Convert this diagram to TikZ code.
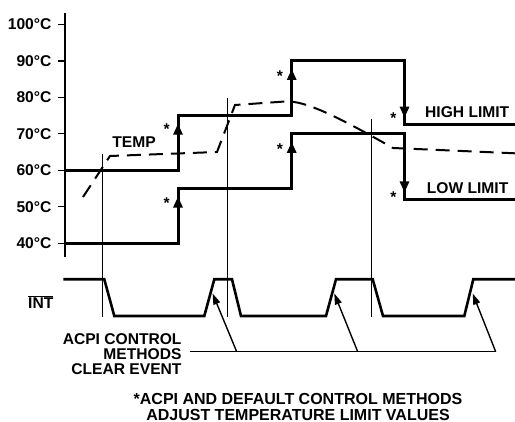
\documentclass[tikz,border=0pt]{standalone}
\usepackage{fontspec}
\setmainfont{Liberation Sans}
\usetikzlibrary{arrows.meta}
\newcommand{\lblfont}{\fontsize{15.6}{15.2}\selectfont\bfseries}
\newcommand{\notefont}{\fontsize{16}{15.4}\selectfont\bfseries}

\begin{document}
\begin{tikzpicture}[x=1pt,y=-1pt,font=\lblfont,line join=miter,
		declare function={yT(\t)=243.2-(\t-40)*3.645;},
		limit/.style={line width=3pt},
		limitarrow/.style={line width=3pt,-{Triangle[length=11pt,width=9pt]}},
		guide/.style={line width=1pt},
		lbl/.style={inner sep=0pt},
		star/.style={inner sep=0pt,yshift=-3.4pt}]
	\useasboundingbox (0,0) rectangle (515,422);
	% temperature axis
	\draw[line width=1.2pt] (65,13) coordinate (ax0) -- (65,256.7) coordinate (ax1);
	\foreach \t in {40,50,...,100}
	\draw[line width=1.2pt] (58,{yT(\t)}) node[lbl,anchor=east,xshift=-6pt] (t\t) {\t°C} -- (65,{yT(\t)});
	% guide lines
	\foreach \x/\y [count=\k] in {102.3/154.5,227.7/97.7,371/119}
	\draw[guide] (\x,\y) coordinate (g\k) -- (\x,316.7);
	% limits
	\draw[limit] (65,{yT(60)}) -- (178,{yT(60)}) -- (178,{yT(75)}) -- (291.7,{yT(75)}) -- (291.7,{yT(90)})
	-- (404.5,{yT(90)}) -- (404.5,{yT(72.5)}) -- (515,{yT(72.5)});
	\draw[limit] (65,{yT(40)}) -- (178,{yT(40)}) -- (178,{yT(55)}) -- (291.7,{yT(55)}) -- (291.7,{yT(70)})
	-- (404.5,{yT(70)}) -- (404.5,{yT(52)}) -- (515,{yT(52)});
	\draw[limitarrow] (178,{yT(60)}) -- (178,{yT(75)+8});
	\draw[limitarrow] (178,{yT(40)}) -- (178,{yT(55)+8});
	\draw[limitarrow] (291.7,{yT(75)}) -- (291.7,{yT(90)+8});
	\draw[limitarrow] (291.7,{yT(55)}) -- (291.7,{yT(70)+8});
	\draw[limitarrow] (404.5,{yT(90)}) -- (404.5,{yT(72.5)-7});
	\draw[limitarrow] (404.5,{yT(70)}) -- (404.5,{yT(52)-7});
	\foreach \x/\y [count=\k] in {166.7/126,166.7/200,280/72.3,280/145.7,393.5/115,393.5/194}
	\node[star] (s\k) at (\x,\y) {*};
	% temperature
	\draw[line width=2pt,dash pattern=on 14pt off 8pt] (83,197) -- (110,156) -- (217,152) -- (235,105)
	-- (285,101.5) .. controls (305,100) and (340,118) .. (393,148) -- (515,153.3);
	\node[lbl] (temp) at (134,141.7) {TEMP};
	\node[lbl,anchor=west] (high) at (425,112.5) {HIGH LIMIT};
	\node[lbl,anchor=west] (low) at (426.7,188.5) {LOW LIMIT};
	% INT output
	\path (63.3,279.3) coordinate (I0) (104.3,279.3) coordinate (I1) (114.3,316) coordinate (I2)
	(204.3,316) coordinate (I3) (214.3,279.3) coordinate (I4) (232,279.3) coordinate (I5)
	(241,316) coordinate (I6) (326,316) coordinate (I7) (336,279.3) coordinate (I8)
	(372.7,279.3) coordinate (I9) (383,316) coordinate (I10) (464.3,316) coordinate (I11)
	(473.3,279.3) coordinate (I12) (515,279.3) coordinate (I13);
	\draw[line width=2.6pt] (I0) \foreach \i in {1,...,13}{-- (I\i)};
	\node[lbl,anchor=base west] (int) at (28,308.6) {$\overline{\mbox{INT}}$};
	% clear event
	\node[lbl,anchor=east,align=right] (clr) at (181.7,354) {ACPI CONTROL\\METHODS\\CLEAR EVENT};
	\path (190,351.7) coordinate (L0) (236.7,351.7) coordinate (B1) (357.7,351.7) coordinate (B2)
	(495.7,351.7) coordinate (B3) (212.6,293.5) coordinate (T1) (334.3,293.5) coordinate (T2)
	(472.7,293.5) coordinate (T3);
	\draw[guide] (L0) -- (B3);
	\foreach \k in {1,2,3}
	\draw[line width=1.4pt,-{Triangle[length=11pt,width=7pt]}] (B\k) -- (T\k);
	\node[inner sep=0pt,anchor=north,align=center,font=\notefont] (note) at (298,393.5)
	{*ACPI AND DEFAULT CONTROL METHODS\\ADJUST TEMPERATURE LIMIT VALUES};
\end{tikzpicture}
\end{document}
